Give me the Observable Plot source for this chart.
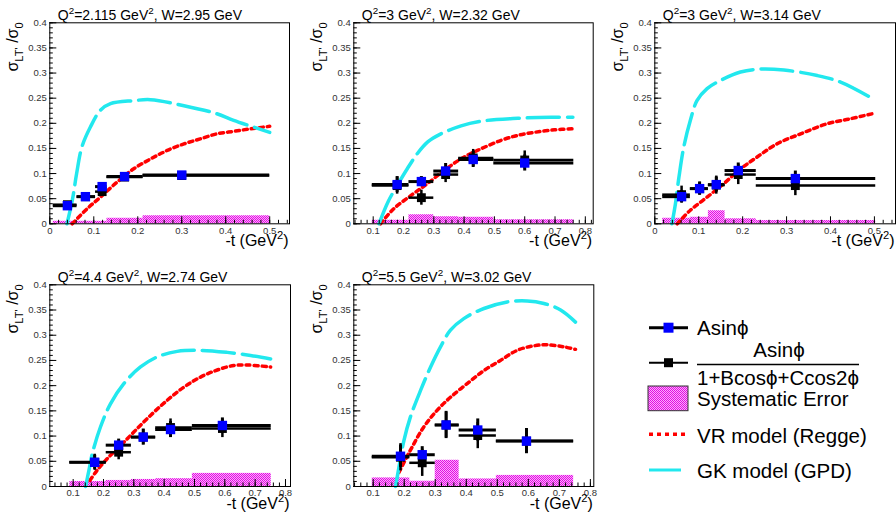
<!DOCTYPE html>
<html><head><meta charset="utf-8">
<script src="https://cdn.jsdelivr.net/npm/d3@7"></script>
<script src="https://cdn.jsdelivr.net/npm/@observablehq/plot@0.6"></script>
<style>
html,body{margin:0;padding:0;background:#fff;}
#chart{position:relative;width:896px;height:512px;overflow:hidden;font-family:"Liberation Sans",Arial,Helvetica,sans-serif;}
#chart svg{position:absolute;}
</style></head><body><div id="chart"></div>
<script>
// ---------- tick labels ----------
const yTicks = [0, 0.05, 0.1, 0.15, 0.2, 0.25, 0.3, 0.35, 0.4];
const yTickLabels = ["0", "0.05", "0.1", "0.15", "0.2", "0.25", "0.3", "0.35", "0.4"];
const xTicksA = [0, 0.1, 0.2, 0.3, 0.4, 0.5];
const xTickLabelsA = ["0", "0.1", "0.2", "0.3", "0.4", "0.5"];
const xTicksB = [0.1, 0.2, 0.3, 0.4, 0.5, 0.6, 0.7, 0.8];
const xTickLabelsB = ["0.1", "0.2", "0.3", "0.4", "0.5", "0.6", "0.7", "0.8"];

// ---------- panel titles ----------
const panelQ2 = ["2.115", "3", "3", "4.4", "5.5"];
const panelW = ["2.95", "2.32", "3.14", "2.74", "3.02"];

// ---------- panel 1 : Q2=2.115, W=2.95 ----------
const p1Lo = [0.008, 0.062, 0.104, 0.130, 0.212];
const p1Hi = [0.062, 0.104, 0.130, 0.212, 0.500];
const p1T = [0.040, 0.081, 0.119, 0.170, 0.300];
const p1Asin = [0.036, 0.054, 0.074, 0.094, 0.097];
const p1AsinErr = [0.004, 0.004, 0.005, 0.005, 0.004];
const p1Ratio = [0.038, 0.054, 0.064, 0.093, 0.096];
const p1RatioErr = [0.005, 0.005, 0.006, 0.006, 0.005];
const p1Sys = [0.005, 0.005, 0.005, 0.011, 0.016];
const p1GkT = [0.039, 0.051, 0.061, 0.073, 0.092, 0.115, 0.138, 0.190, 0.229, 0.305, 0.380, 0.418, 0.500];
const p1GkV = [0.000, 0.046, 0.100, 0.153, 0.192, 0.226, 0.239, 0.245, 0.247, 0.235, 0.219, 0.206, 0.182];
const p1VrT = [0.051, 0.085, 0.115, 0.153, 0.190, 0.229, 0.267, 0.305, 0.342, 0.380, 0.418, 0.456, 0.500];
const p1VrV = [0.000, 0.030, 0.053, 0.083, 0.109, 0.129, 0.146, 0.159, 0.169, 0.179, 0.184, 0.189, 0.194];

// ---------- panel 2 : Q2=3, W=2.32 ----------
const p2Lo = [0.097, 0.218, 0.300, 0.382, 0.498];
const p2Hi = [0.218, 0.300, 0.382, 0.498, 0.762];
const p2T = [0.179, 0.259, 0.339, 0.430, 0.600];
const p2Asin = [0.078, 0.084, 0.105, 0.128, 0.121];
const p2AsinErr = [0.016, 0.010, 0.015, 0.016, 0.016];
const p2Ratio = [0.076, 0.052, 0.098, 0.131, 0.127];
const p2RatioErr = [0.017, 0.015, 0.016, 0.017, 0.018];
const p2Sys = [0.007, 0.018, 0.014, 0.013, 0.008];
const p2GkT = [0.119, 0.150, 0.180, 0.213, 0.246, 0.280, 0.320, 0.390, 0.466, 0.577, 0.687, 0.759];
const p2GkV = [0.000, 0.045, 0.077, 0.110, 0.140, 0.163, 0.178, 0.195, 0.205, 0.210, 0.212, 0.212];
const p2VrT = [0.124, 0.168, 0.224, 0.279, 0.334, 0.389, 0.444, 0.522, 0.577, 0.632, 0.698, 0.759];
const p2VrV = [0.000, 0.030, 0.056, 0.080, 0.106, 0.129, 0.146, 0.166, 0.176, 0.182, 0.187, 0.189];

// ---------- panel 3 : Q2=3, W=3.14 ----------
const p3Lo = [0.018, 0.081, 0.122, 0.160, 0.231];
const p3Hi = [0.081, 0.122, 0.160, 0.231, 0.503];
const p3T = [0.061, 0.102, 0.140, 0.190, 0.320];
const p3Asin = [0.054, 0.070, 0.078, 0.106, 0.090];
const p3AsinErr = [0.012, 0.013, 0.015, 0.015, 0.015];
const p3Ratio = [0.058, 0.070, 0.077, 0.098, 0.076];
const p3RatioErr = [0.017, 0.013, 0.018, 0.020, 0.020];
const p3Sys = [0.011, 0.013, 0.026, 0.010, 0.0065];
const p3GkT = [0.039, 0.047, 0.055, 0.066, 0.081, 0.096, 0.119, 0.149, 0.195, 0.241, 0.294, 0.370, 0.423, 0.490];
const p3GkV = [0.000, 0.040, 0.093, 0.153, 0.206, 0.245, 0.269, 0.285, 0.302, 0.308, 0.306, 0.295, 0.282, 0.252];
const p3VrT = [0.051, 0.081, 0.119, 0.157, 0.195, 0.233, 0.278, 0.332, 0.392, 0.445, 0.500];
const p3VrV = [0.000, 0.027, 0.053, 0.080, 0.109, 0.133, 0.159, 0.179, 0.199, 0.209, 0.220];

// ---------- panel 4 : Q2=4.4, W=2.74 ----------
const p4Lo = [0.089, 0.209, 0.292, 0.372, 0.493];
const p4Hi = [0.209, 0.292, 0.372, 0.493, 0.753];
const p4T = [0.171, 0.250, 0.331, 0.421, 0.592];
const p4Asin = [0.048, 0.082, 0.098, 0.113, 0.121];
const p4AsinErr = [0.014, 0.012, 0.016, 0.016, 0.015];
const p4Ratio = [0.048, 0.068, 0.098, 0.117, 0.115];
const p4RatioErr = [0.016, 0.015, 0.015, 0.017, 0.018];
const p4Sys = [0.010, 0.012, 0.014, 0.0155, 0.026];
const p4GkT = [0.141, 0.152, 0.163, 0.190, 0.223, 0.267, 0.322, 0.377, 0.443, 0.520, 0.608, 0.685, 0.751];
const p4GkV = [0.000, 0.032, 0.065, 0.118, 0.164, 0.204, 0.237, 0.257, 0.268, 0.270, 0.266, 0.260, 0.253];
const p4VrT = [0.155, 0.179, 0.212, 0.256, 0.300, 0.355, 0.410, 0.465, 0.520, 0.575, 0.630, 0.674, 0.751];
const p4VrV = [0.012, 0.032, 0.055, 0.081, 0.108, 0.141, 0.171, 0.197, 0.217, 0.231, 0.240, 0.241, 0.237];

// ---------- panel 5 : Q2=5.5, W=3.02 ----------
const p5Lo = [0.097, 0.218, 0.300, 0.377, 0.497];
const p5Hi = [0.218, 0.300, 0.377, 0.497, 0.746];
const p5T = [0.188, 0.258, 0.335, 0.437, 0.594];
const p5Asin = [0.060, 0.063, 0.122, 0.112, 0.090];
const p5AsinErr = [0.022, 0.016, 0.027, 0.022, 0.025];
const p5Ratio = [0.058, 0.047, 0.122, 0.101, 0.090];
const p5RatioErr = [0.027, 0.027, 0.025, 0.026, 0.024];
const p5Sys = [0.017, 0.0105, 0.052, 0.015, 0.022];
const p5GkT = [0.172, 0.183, 0.199, 0.220, 0.253, 0.285, 0.317, 0.349, 0.392, 0.457, 0.532, 0.596, 0.650, 0.704, 0.752];
const p5GkV = [0.000, 0.038, 0.091, 0.138, 0.191, 0.237, 0.277, 0.310, 0.333, 0.353, 0.366, 0.368, 0.363, 0.350, 0.326];
const p5VrT = [0.183, 0.220, 0.263, 0.306, 0.349, 0.403, 0.457, 0.510, 0.564, 0.618, 0.661, 0.714, 0.752];
const p5VrV = [0.028, 0.072, 0.118, 0.151, 0.177, 0.204, 0.230, 0.250, 0.270, 0.279, 0.281, 0.277, 0.272];

// ---------- legend ----------
const legendLabels = ["Asinϕ", "Asinϕ", "1+Bcosϕ+Ccos2ϕ", "Systematic Error", "VR model (Regge)", "GK model (GPD)"];

// ---------- colours / styles ----------
const BLUE = "#0000ff", RED = "#ff0000", CYAN = "#22e8ee";
const FONT = '"Liberation Sans", Arial, Helvetica, sans-serif';

const chart = document.getElementById("chart");

// shared pattern for systematic error boxes
const defsSvg = d3.create("svg").attr("width", 0).attr("height", 0).style("left", "0px").style("top", "0px");
const pat = defsSvg.append("defs").append("pattern").attr("id", "sysPat")
  .attr("patternUnits", "userSpaceOnUse").attr("width", 2).attr("height", 2);
pat.append("rect").attr("width", 2).attr("height", 2).attr("fill", "#ffa8ff");
pat.append("rect").attr("x", 0).attr("y", 0).attr("width", 1).attr("height", 1).attr("fill", "#e010e0");
pat.append("rect").attr("x", 1).attr("y", 1).attr("width", 1).attr("height", 1).attr("fill", "#e010e0");
chart.appendChild(defsSvg.node());

const panels = [
  {ox: 0, oy: 0, W: 300, H: 252, fl: 49.3, fr: 289, ft: 22.3, fb: 223.3, xDomain: [0, 0.545], xTicks: xTicksA, xLabels: xTickLabelsA,
   lo: p1Lo, hi: p1Hi, t: p1T, a: p1Asin, ae: p1AsinErr, r: p1Ratio, re: p1RatioErr, sys: p1Sys, gkT: p1GkT, gkV: p1GkV, vrT: p1VrT, vrV: p1VrV},
  {ox: 300, oy: 0, W: 300, H: 252, fl: 353.3, fr: 592.7, ft: 22.3, fb: 223.3, xDomain: [0.036, 0.826], xTicks: xTicksB, xLabels: xTickLabelsB,
   lo: p2Lo, hi: p2Hi, t: p2T, a: p2Asin, ae: p2AsinErr, r: p2Ratio, re: p2RatioErr, sys: p2Sys, gkT: p2GkT, gkV: p2GkV, vrT: p2VrT, vrV: p2VrV},
  {ox: 600, oy: 0, W: 296, H: 252, fl: 654.3, fr: 895, ft: 22.3, fb: 223.3, xDomain: [0, 0.548], xTicks: xTicksA, xLabels: xTickLabelsA,
   lo: p3Lo, hi: p3Hi, t: p3T, a: p3Asin, ae: p3AsinErr, r: p3Ratio, re: p3RatioErr, sys: p3Sys, gkT: p3GkT, gkV: p3GkV, vrT: p3VrT, vrV: p3VrV},
  {ox: 0, oy: 256, W: 300, H: 256, fl: 49.3, fr: 290, ft: 284.3, fb: 486, xDomain: [0.023, 0.8165], xTicks: xTicksB, xLabels: xTickLabelsB,
   lo: p4Lo, hi: p4Hi, t: p4T, a: p4Asin, ae: p4AsinErr, r: p4Ratio, re: p4RatioErr, sys: p4Sys, gkT: p4GkT, gkV: p4GkV, vrT: p4VrT, vrV: p4VrV},
  {ox: 300, oy: 256, W: 300, H: 256, fl: 353.3, fr: 593.3, ft: 284.3, fb: 486, xDomain: [0.0375, 0.811], xTicks: xTicksB, xLabels: xTickLabelsB,
   lo: p5Lo, hi: p5Hi, t: p5T, a: p5Asin, ae: p5AsinErr, r: p5Ratio, re: p5RatioErr, sys: p5Sys, gkT: p5GkT, gkV: p5GkV, vrT: p5VrT, vrV: p5VrV}
];

function richText(sel, x, y, parts, size, anchor, transform) {
  const t = sel.append("text").attr("x", x).attr("y", y).attr("font-size", size)
    .attr("font-family", FONT).attr("fill", "#000").attr("text-anchor", anchor || "start");
  if (transform) t.attr("transform", transform).attr("x", 0).attr("y", 0);
  let shift = 0;
  for (const [s, kind] of parts) {
    let target = kind === "sup" ? -size * 0.42 : kind === "sub" ? size * 0.28 : 0;
    const ts = t.append("tspan").text(s).attr("dy", target - shift);
    if (kind) ts.attr("font-size", size * 0.7);
    shift = target;
  }
  return t;
}

function minorTicks(d0, d1, step) {
  const out = [];
  for (let k = Math.ceil(d0 / step - 1e-9); k * step <= d1 + 1e-9; k++) out.push(+(k * step).toFixed(4));
  return out;
}

panels.forEach((p, pi) => {
  const ml = p.fl - p.ox, mr = p.ox + p.W - p.fr, mt = p.ft - p.oy, mb = p.oy + p.H - p.fb;
  const pts = p.t.map((t, i) => ({t, lo: p.lo[i], hi: p.hi[i], a: p.a[i], ae: p.ae[i], r: p.r[i], re: p.re[i], sys: p.sys[i]}));
  const gk = p.gkT.map((t, i) => ({t, v: p.gkV[i]}));
  const vr = p.vrT.map((t, i) => ({t, v: p.vrV[i]}));
  const yLab = new Map(yTicks.map((v, i) => [v, yTickLabels[i]]));
  const xLab = new Map(p.xTicks.map((v, i) => [v, p.xLabels[i]]));
  const svg = Plot.plot({
    width: p.W, height: p.H,
    marginLeft: ml, marginRight: mr, marginTop: mt, marginBottom: mb,
    x: {domain: p.xDomain, axis: null},
    y: {domain: [0, 0.4], axis: null},
    style: {fontFamily: FONT, fontSize: "10px", background: "transparent", overflow: "visible"},
    marks: [
      Plot.rect(pts, {x1: "lo", x2: "hi", y1: 0, y2: "sys", fill: "url(#sysPat)"}),
      Plot.line(vr, {x: "t", y: "v", stroke: RED, strokeWidth: 3.5, strokeDasharray: "4,4", curve: "catmull-rom"}),
      Plot.line(gk, {x: "t", y: "v", stroke: CYAN, strokeWidth: 3.5, strokeDasharray: "32,8", curve: "catmull-rom"}),
      // Asin / (1 + B cos + C cos2) series (black)
      Plot.ruleY(pts, {y: "r", x1: "lo", x2: "hi", stroke: "#000", strokeWidth: 2.5}),
      Plot.ruleX(pts, {x: "t", y1: d => d.r - d.re, y2: d => d.r + d.re, stroke: "#000", strokeWidth: 2.5}),
      Plot.dot(pts, {x: "t", y: "r", symbol: "square", r: 5, fill: "#000", stroke: null}),
      // Asin series (blue markers)
      Plot.ruleY(pts, {y: "a", x1: "lo", x2: "hi", stroke: "#000", strokeWidth: 3}),
      Plot.ruleX(pts, {x: "t", y1: d => d.a - d.ae, y2: d => d.a + d.ae, stroke: "#000", strokeWidth: 3}),
      Plot.dot(pts, {x: "t", y: "a", symbol: "square", r: 5.3, fill: BLUE, stroke: null}),
      // axes (ROOT style: ticks inside the frame)
      Plot.axisY({ticks: minorTicks(0, 0.4, 0.01), tickSize: -3.5, tickFormat: () => "", label: null, stroke: "#000"}),
      Plot.axisY({ticks: yTicks, tickSize: -7, tickFormat: () => "", label: null, stroke: "#000"}),
      Plot.axisY({ticks: yTicks, tickSize: 0, tickPadding: 3, tickFormat: d => yLab.get(d), label: null, fontSize: 9.5, fill: "#333"}),
      Plot.axisX({ticks: minorTicks(p.xDomain[0], p.xDomain[1], 0.02), tickSize: -3.5, tickFormat: () => "", label: null, stroke: "#000"}),
      Plot.axisX({ticks: p.xTicks, tickSize: -7, tickFormat: () => "", label: null, stroke: "#000"}),
      Plot.axisX({ticks: p.xTicks, tickSize: 0, tickPadding: 3, tickFormat: d => xLab.get(d), label: null, fontSize: 9.5, fill: "#333"}),
      Plot.frame({stroke: "#000", strokeWidth: 1})
    ]
  });
  svg.style.left = p.ox + "px";
  svg.style.top = p.oy + "px";
  const s = d3.select(svg);
  // panel title
  richText(s, ml + 8.5, mt - 2.5, [["Q", null], ["2", "sup"], ["=" + panelQ2[pi] + " GeV", null], ["2", "sup"], [", W=" + panelW[pi] + " GeV", null]], 14, "start");
  // y axis title (rotated)
  richText(s, 0, 0, [["σ", null], ["LT'", "sub"], [" /σ", null], ["0", "sub"]], 16, "end",
    `translate(${ml - 31},${mt}) rotate(-90)`);
  // x axis title
  richText(s, p.W - mr - 0.5, p.H - mb + 22.5, [["-t (GeV", null], ["2", "sup"], [")", null]], 16, "end");
  chart.appendChild(svg);
});

// ---------- legend ----------
(function () {
  const L = 620, T = 300;
  const g = d3.create("svg").attr("width", 276).attr("height", 212).style("left", L + "px").style("top", T + "px");
  const X = v => v - L, Y = v => v - T;
  const fs = 20.5;
  const addText = (x, y, s, anchor) => g.append("text").attr("x", X(x)).attr("y", Y(y)).attr("font-size", fs)
    .attr("font-family", FONT).attr("fill", "#000").attr("text-anchor", anchor || "start").text(s);
  // Asin
  g.append("line").attr("x1", X(649)).attr("x2", X(688)).attr("y1", Y(327.7)).attr("y2", Y(327.7)).attr("stroke", "#000").attr("stroke-width", 3);
  g.append("rect").attr("x", X(668.5) - 5).attr("y", Y(327.7) - 5).attr("width", 10).attr("height", 10).attr("fill", BLUE);
  addText(697, 335, legendLabels[0]);
  // fraction
  g.append("line").attr("x1", X(649)).attr("x2", X(688)).attr("y1", Y(362.7)).attr("y2", Y(362.7)).attr("stroke", "#000").attr("stroke-width", 2);
  g.append("rect").attr("x", X(668.5) - 4.5).attr("y", Y(362.7) - 4.5).attr("width", 9).attr("height", 9).attr("fill", "#000");
  addText(779, 357, legendLabels[1], "middle");
  g.append("line").attr("x1", X(697)).attr("x2", X(859)).attr("y1", Y(364.5)).attr("y2", Y(364.5)).attr("stroke", "#000").attr("stroke-width", 1.6);
  addText(697, 385, legendLabels[2]);
  // systematic
  g.append("rect").attr("x", X(648)).attr("y", Y(386)).attr("width", 40).attr("height", 24.7).attr("fill", "url(#sysPat)").attr("stroke", "#333").attr("stroke-width", 1);
  addText(697, 406, legendLabels[3]);
  // VR
  g.append("line").attr("x1", X(649)).attr("x2", X(688)).attr("y1", Y(434.3)).attr("y2", Y(434.3)).attr("stroke", RED).attr("stroke-width", 3.5).attr("stroke-dasharray", "4,4");
  addText(697, 443, legendLabels[4]);
  // GK
  g.append("line").attr("x1", X(649)).attr("x2", X(681)).attr("y1", Y(470)).attr("y2", Y(470)).attr("stroke", CYAN).attr("stroke-width", 3);
  addText(697, 478, legendLabels[5]);
  chart.appendChild(g.node());
})();
</script></body></html>
